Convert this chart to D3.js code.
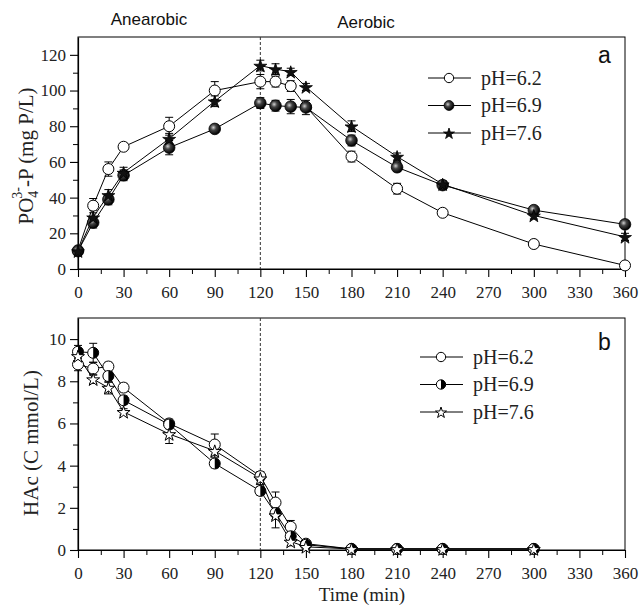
<!DOCTYPE html>
<html>
<head>
<meta charset="utf-8">
<script src="https://cdn.jsdelivr.net/npm/d3@7"></script>
<style>
  body { margin: 0; background: #fff; }
  svg { display: block; }
</style>
</head>
<body>
<div id="chart"></div>
<script>
// ── Data ───────────────────────────────────────────────────────────────
const SERIES = ["pH=6.2", "pH=6.9", "pH=7.6"];

// panel a: PO4-P (mg P/L)
const TIME_A = [0, 10, 20, 30, 60, 90, 120, 130, 140, 150, 180, 210, 240, 300, 360];
const PO4_62 = [10.5, 35.5, 56, 68.5, 80, 100, 105, 105, 102.5, 91, 63, 45, 31.5, 14, 2];
const PO4_69 = [10, 26, 39, 52.5, 68, 78.5, 93, 91.5, 91, 90.5, 72, 57, 47, 33, 25];
const PO4_76 = [10, 29, 41.5, 54, 73, 94, 114, 112, 110.5, 102, 80, 63, 47.5, 30, 18];
const PO4_62_ERR = [1, 4, 4, 2, 5, 5, 4, 3, 3, 2, 3, 3, 2, 2, 1];
const PO4_69_ERR = [2, 3, 3, 3, 4, 2, 3, 3, 4, 4, 3, 2, 2, 2, 2];
const PO4_76_ERR = [1, 4, 3, 3, 3, 3, 3, 3, 2, 2, 3, 2, 2, 2, 2];

// panel b: HAc (C mmol/L)
const TIME_B = [0, 10, 20, 30, 60, 90, 120, 130, 140, 150, 180, 210, 240, 300];
const HAC_62 = [8.8, 8.6, 8.7, 7.7, 6.0, 5.0, 3.5, 2.25, 1.1, 0.3, 0.05, 0.05, 0.05, 0.05];
const HAC_69 = [9.4, 9.35, 8.25, 7.1, 5.95, 4.1, 2.8, 1.75, 0.65, 0.25, 0.05, 0.05, 0.05, 0.05];
const HAC_76 = [9.2, 8.1, 7.7, 6.55, 5.5, 4.7, 3.4, 1.65, 0.4, 0.15, 0.05, 0.05, 0.05, 0.05];
const HAC_62_ERR = [0.3, 0.3, 0.2, 0.2, 0.2, 0.5, 0.2, 0.5, 0.3, 0.1, 0.05, 0.05, 0.05, 0.05];
const HAC_69_ERR = [0.3, 0.45, 0.3, 0.2, 0.2, 0.2, 0.2, 0.3, 0.2, 0.1, 0.05, 0.05, 0.05, 0.05];
const HAC_76_ERR = [0.3, 0.2, 0.3, 0.15, 0.45, 0.3, 0.3, 0.6, 0.2, 0.1, 0.05, 0.05, 0.05, 0.05];

const X_TICKS = [0, 30, 60, 90, 120, 150, 180, 210, 240, 270, 300, 330, 360];
const Y_TICKS_A = [0, 20, 40, 60, 80, 100, 120];
const Y_TICKS_B = [0, 2, 4, 6, 8, 10];

// ── Layout ─────────────────────────────────────────────────────────────
const W = 644, H = 609;
const X0 = 78, X1 = 625;
const SERIF = "\"Liberation Serif\", \"Times New Roman\", serif";
const SANS = "\"Liberation Sans\", Arial, sans-serif";

const svg = d3.select("#chart").append("svg").attr("width", W).attr("height", H);

const defs = svg.append("defs");
const grad = defs.append("radialGradient").attr("id", "ball")
  .attr("cx", "38%").attr("cy", "38%").attr("r", "62%");
grad.append("stop").attr("offset", "0%").attr("stop-color", "#cfcfcf");
grad.append("stop").attr("offset", "40%").attr("stop-color", "#444");
grad.append("stop").attr("offset", "100%").attr("stop-color", "#000");

const x = d3.scaleLinear().domain([0, 360]);

// marker painters (r = radius scale)
function openCircle(g, cx, cy, k = 1) {
  g.append("circle").attr("cx", cx).attr("cy", cy).attr("r", 5.5 * k)
    .attr("fill", "#fff").attr("stroke", "#000").attr("stroke-width", 1);
}
function ballCircle(g, cx, cy, k = 1) {
  g.append("circle").attr("cx", cx).attr("cy", cy).attr("r", 5.8 * k)
    .attr("fill", "url(#ball)").attr("stroke", "#000").attr("stroke-width", 0.8);
}
function halfCircle(g, cx, cy, k = 1) {
  const r = 5.5 * k;
  g.append("circle").attr("cx", cx).attr("cy", cy).attr("r", r).attr("fill", "#fff");
  g.append("path")
    .attr("d", `M${cx},${cy - r} A${r},${r} 0 0,1 ${cx},${cy + r} Z`)
    .attr("fill", "#000");
  g.append("circle").attr("cx", cx).attr("cy", cy).attr("r", r)
    .attr("fill", "none").attr("stroke", "#000").attr("stroke-width", 1);
}
function starD(k) { return d3.symbol().type(d3.symbolStar).size(52 * k * k)(); }
function filledStar(g, cx, cy, k = 1) {
  g.append("path").attr("d", starD(k)).attr("transform", `translate(${cx},${cy + 0.8})`)
    .attr("fill", "#111").attr("stroke", "#000").attr("stroke-width", 0.8);
}
function openStar(g, cx, cy, k = 1) {
  g.append("path").attr("d", starD(k)).attr("transform", `translate(${cx},${cy + 0.8})`)
    .attr("fill", "#fff").attr("stroke", "#000").attr("stroke-width", 1);
}

function drawPanel(opt) {
  const { top, bottom, ymax, yTicks, yMinor, time, series, letter, letterY,
          legendY, legendX, ylabel, ylabelX, ylabelY } = opt;
  const xs = x.copy().range([X0, X1]);
  const y = d3.scaleLinear().domain([0, ymax]).range([bottom, top]);
  const g = svg.append("g");

  // frame
  g.append("rect").attr("x", X0).attr("y", top).attr("width", X1 - X0).attr("height", bottom - top)
    .attr("fill", "none").attr("stroke", "#000").attr("stroke-width", 1);

  // x axis
  const xMinor = d3.range(15, 360, 30);
  g.append("g").attr("transform", `translate(0,${bottom})`)
    .call(d3.axisBottom(xs).tickValues(xMinor).tickSize(5).tickFormat(""))
    .call(a => a.select(".domain").remove());
  const xa = g.append("g").attr("transform", `translate(0,${bottom})`)
    .call(d3.axisBottom(xs).tickValues(X_TICKS).tickSize(8).tickPadding(9).tickSizeOuter(0));
  xa.select(".domain").attr("stroke-width", 1.2);
  xa.selectAll("line").attr("stroke-width", 1.1);
  xa.selectAll("text").style("font-family", SERIF).style("font-size", "17px").attr("fill", "#222");

  // y axis
  g.append("g").attr("transform", `translate(${X0},0)`)
    .call(d3.axisLeft(y).tickValues(yMinor).tickSize(5).tickFormat(""))
    .call(a => a.select(".domain").remove());
  const ya = g.append("g").attr("transform", `translate(${X0},0)`)
    .call(d3.axisLeft(y).tickValues(yTicks).tickSize(8).tickPadding(4).tickSizeOuter(0));
  ya.select(".domain").attr("stroke-width", 1.2);
  ya.selectAll("line").attr("stroke-width", 1.1);
  ya.selectAll("text").style("font-family", SERIF).style("font-size", "17px").attr("fill", "#222");

  // dashed divider at 120 min
  g.append("line").attr("x1", xs(120)).attr("x2", xs(120)).attr("y1", top).attr("y2", bottom)
    .attr("stroke", "#333").attr("stroke-width", 1).attr("stroke-dasharray", "3,2");

  // series
  const line = d3.line().x(d => xs(d.t)).y(d => y(d.v));
  series.forEach(s => {
    const pts = time.map((t, i) => ({ t, v: s.values[i], e: s.err[i] }));
    g.append("path").datum(pts).attr("d", line)
      .attr("fill", "none").attr("stroke", "#000").attr("stroke-width", 1);
    const eb = g.append("g");
    pts.forEach(p => {
      const cx = xs(p.t), y1 = y(Math.max(0, p.v - p.e)), y2 = y(p.v + p.e);
      eb.append("line").attr("x1", cx).attr("x2", cx).attr("y1", y1).attr("y2", y2)
        .attr("stroke", "#000").attr("stroke-width", 1);
      [y1, y2].forEach(yy => eb.append("line").attr("x1", cx - 4).attr("x2", cx + 4)
        .attr("y1", yy).attr("y2", yy).attr("stroke", "#000").attr("stroke-width", 1));
    });
  });
  series.forEach(s => {
    const mg = g.append("g");
    time.forEach((t, i) => s.marker(mg, xs(t), y(s.values[i])));
  });

  // legend
  series.forEach((s, i) => {
    const ly = legendY + i * 27.5;
    const lg = g.append("g");
    lg.append("line").attr("x1", legendX).attr("x2", legendX + 43).attr("y1", ly).attr("y2", ly)
      .attr("stroke", "#000").attr("stroke-width", 1);
    s.marker(lg, legendX + 21, ly, 0.85);
    lg.append("text").attr("x", legendX + 53).attr("y", ly + 6.5)
      .style("font-family", SERIF).style("font-size", "20px").attr("fill", "#222")
      .text(s.name);
  });

  // panel letter
  g.append("text").attr("x", 598).attr("y", letterY)
    .style("font-family", SANS).style("font-size", "23px").attr("fill", "#111").text(letter);

  // y label
  const yl = g.append("text")
    .attr("transform", `translate(${ylabelX},${ylabelY}) rotate(-90)`)
    .attr("text-anchor", "middle")
    .style("font-family", SERIF).style("font-size", "21px").attr("fill", "#222");
  ylabel(yl);
}

drawPanel({
  top: 37, bottom: 269, ymax: 130,
  yTicks: Y_TICKS_A, yMinor: d3.range(10, 130, 20),
  time: TIME_A,
  series: [
    { name: SERIES[0], values: PO4_62, err: PO4_62_ERR, marker: openCircle },
    { name: SERIES[1], values: PO4_69, err: PO4_69_ERR, marker: ballCircle },
    { name: SERIES[2], values: PO4_76, err: PO4_76_ERR, marker: filledStar }
  ],
  letter: "a", letterY: 63, legendX: 428, legendY: 78,
  ylabelX: 33, ylabelY: 156,
  ylabel: t => {
    t.append("tspan").text("PO");
    t.append("tspan").attr("dy", 5).style("font-size", "14px").text("4");
    t.append("tspan").attr("dx", -8).attr("dy", -16).style("font-size", "14px").text("3-");
    t.append("tspan").attr("dy", 11).text("-P (mg P/L)");
  }
});

drawPanel({
  top: 318, bottom: 550, ymax: 11,
  yTicks: Y_TICKS_B, yMinor: d3.range(1, 11, 2),
  time: TIME_B,
  series: [
    { name: SERIES[0], values: HAC_62, err: HAC_62_ERR, marker: openCircle },
    { name: SERIES[1], values: HAC_69, err: HAC_69_ERR, marker: halfCircle },
    { name: SERIES[2], values: HAC_76, err: HAC_76_ERR, marker: openStar }
  ],
  letter: "b", letterY: 350, legendX: 420, legendY: 357,
  ylabelX: 38, ylabelY: 443,
  ylabel: t => t.text("HAc (C mmol/L)")
});

// phase labels and x title
svg.append("text").attr("x", 149).attr("y", 25).attr("text-anchor", "middle")
  .style("font-family", SANS).style("font-size", "17px").attr("fill", "#111").text("Anearobic");
svg.append("text").attr("x", 366).attr("y", 28).attr("text-anchor", "middle")
  .style("font-family", SANS).style("font-size", "17px").attr("fill", "#111").text("Aerobic");
svg.append("text").attr("x", 362).attr("y", 601).attr("text-anchor", "middle")
  .style("font-family", SERIF).style("font-size", "19px").attr("fill", "#222").text("Time (min)");
</script>
</body>
</html>
